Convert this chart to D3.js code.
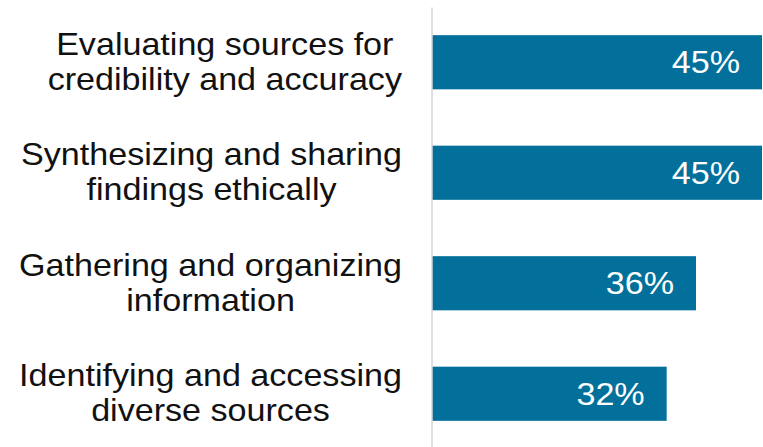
<!DOCTYPE html>
<html>
<head>
<meta charset="utf-8">
<script src="https://cdn.jsdelivr.net/npm/d3@7"></script>
<style>
  html, body { margin: 0; padding: 0; background: #ffffff; }
  svg { display: block; }
  text { font-family: "Liberation Sans", Arial, Helvetica, sans-serif; }
</style>
</head>
<body>
<svg id="chart" width="763" height="447"></svg>
<script>
const categories = [
  ["Evaluating sources for", "credibility and accuracy"],
  ["Synthesizing and sharing", "findings ethically"],
  ["Gathering and organizing", "information"],
  ["Identifying and accessing", "diverse sources"]
];
const values = [45, 45, 36, 32];
const valueLabels = ["45%", "45%", "36%", "32%"];

const W = 763, H = 447;
const stretch = 1.1;
const fontSize = 31;
const barColor = "#02709a";

const svg = d3.select("#chart");
const keys = categories.map((c, i) => i);

const y = d3.scaleBand()
  .domain(keys)
  .range([7, 449])
  .paddingInner(0.51)
  .paddingOuter(0.255);

const x = d3.scaleLinear()
  .domain([0, 45])
  .range([432, 762]);

// bars
svg.append("g").selectAll("rect")
  .data(values)
  .join("rect")
  .attr("x", x(0))
  .attr("y", (d, i) => y(i))
  .attr("width", d => x(d) - x(0))
  .attr("height", y.bandwidth())
  .attr("fill", barColor);

// axis line
const axis = svg.append("g")
  .attr("transform", `translate(${x(0) - 0.5},0)`)
  .call(d3.axisLeft(y).tickSize(0).tickSizeOuter(0).tickFormat(""));
axis.select(".domain").attr("stroke", "#d4d4d4").attr("stroke-width", 1.5);

// value labels
svg.append("g").selectAll("g")
  .data(values)
  .join("g")
  .attr("transform", (d, i) => `translate(${x(d) - 22},${y(i) + y.bandwidth() / 2}) scale(${stretch},1)`)
  .append("text")
  .attr("text-anchor", "end")
  .attr("dy", "0.36em")
  .attr("fill", "#ffffff")
  .attr("font-size", fontSize)
  .text((d, i) => valueLabels[i]);

// category labels (each line centered within a block right-aligned at labelRight)
const labelRight = 402;
const lineH = 35;
const lg = svg.append("g");
categories.forEach((lines, i) => {
  const g = lg.append("g");
  const texts = lines.map((t, j) => g.append("text")
    .attr("text-anchor", "middle")
    .attr("font-size", fontSize)
    .attr("fill", "#111111")
    .attr("y", (j - (lines.length - 1) / 2) * lineH)
    .attr("dy", "0.36em")
    .text(t));
  const maxW = d3.max(texts, t => t.node().getComputedTextLength()) * stretch;
  const cx = labelRight - maxW / 2;
  g.attr("transform", `translate(${cx},${y(i) + y.bandwidth() / 2 - 1}) scale(${stretch},1)`);
});
</script>
</body>
</html>
